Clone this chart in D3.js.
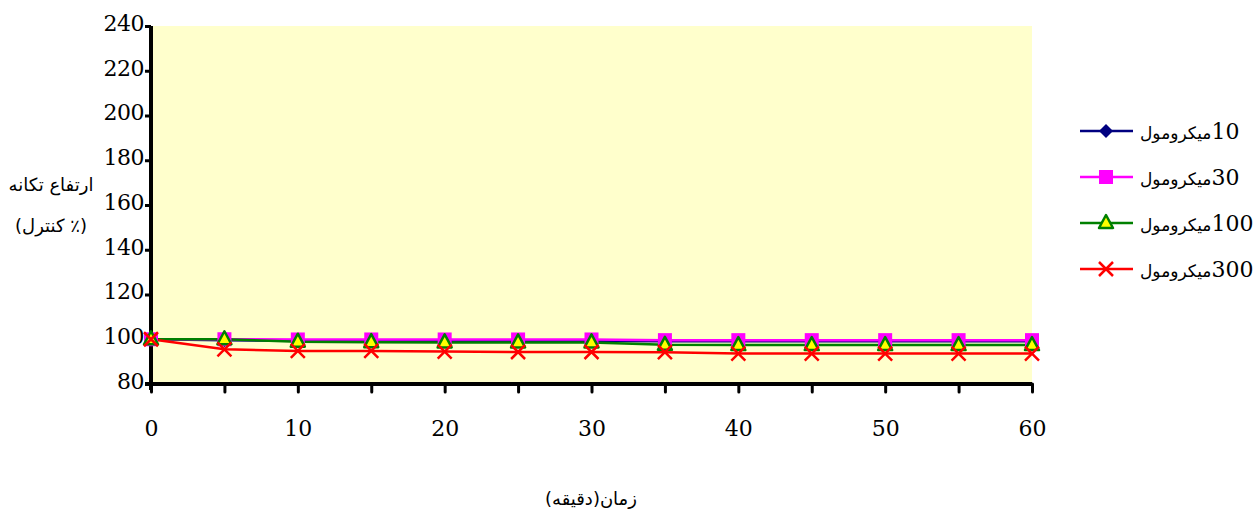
<!DOCTYPE html>
<html>
<head>
<meta charset="utf-8">
<script src="https://cdn.jsdelivr.net/npm/d3@7"></script>
<style>
  body { margin: 0; background: #fff; }
  svg { display: block; }
  .tick text { font-family: "DejaVu Serif", "Liberation Serif", serif; }
</style>
</head>
<body>
<svg id="chart" width="1256" height="512"></svg>
<script>
(() => {
  const minutes = [0, 5, 10, 15, 20, 25, 30, 35, 40, 45, 50, 55, 60];
  const s10 = [100, 99.6, 99.3, 99.3, 99.2, 99.2, 99.2, 99.1, 99.1, 99.1, 99.1, 99.1, 99.1];
  const s30 = [100, 100, 99.9, 99.9, 99.9, 99.9, 99.9, 99.6, 99.6, 99.6, 99.6, 99.6, 99.6];
  const s100 = [100, 100, 98.9, 98.7, 98.6, 98.6, 98.6, 97.5, 97.4, 97.4, 97.4, 97.4, 97.4];
  const s300 = [100, 95.5, 94.8, 94.8, 94.5, 94.3, 94.3, 94.2, 93.6, 93.6, 93.6, 93.6, 93.6];
  const seriesNames = ["10میکرومول", "30میکرومول", "100میکرومول", "300میکرومول"];
  const yTicks = [80, 100, 120, 140, 160, 180, 200, 220, 240];
  const xLabels = [0, 10, 20, 30, 40, 50, 60];

  const series = [
    { name: seriesNames[0], values: s10, color: "#000080", marker: "diamond" },
    { name: seriesNames[1], values: s30, color: "#ff00ff", marker: "square" },
    { name: seriesNames[2], values: s100, color: "#008000", marker: "triangle" },
    { name: seriesNames[3], values: s300, color: "#ff0000", marker: "cross" },
  ];

  const svg = d3.select("#chart");
  const x = d3.scaleLinear().domain([0, 60]).range([151, 1032]);
  const y = d3.scaleLinear().domain([80, 240]).range([384, 26]);

  svg.append("rect")
    .attr("x", x(0)).attr("y", y(240))
    .attr("width", x(60) - x(0)).attr("height", y(80) - y(240))
    .attr("fill", "#ffffcc");

  // y axis
  const yAxis = svg.append("g")
    .attr("transform", `translate(${x(0)},0)`)
    .call(d3.axisLeft(y).tickValues(yTicks).tickSize(6).tickPadding(1));
  yAxis.select(".domain").attr("stroke", "#000").attr("stroke-width", 4)
    .attr("d", `M0,${y(240)}V${y(80) + 6}`);
  yAxis.selectAll(".tick line").attr("stroke-width", 3);
  yAxis.selectAll(".tick text").attr("font-size", 22).attr("fill", "#000").attr("dy", "0.2em")
    .attr("letter-spacing", -0.5);

  // x axis
  const xAxis = svg.append("g")
    .attr("transform", `translate(0,${y(80)})`)
    .call(d3.axisBottom(x).tickValues(minutes).tickSize(8).tickFormat(d => xLabels.includes(d) ? d : ""));
  xAxis.select(".domain").attr("stroke", "#000").attr("stroke-width", 4)
    .attr("d", `M${x(0) - 6},0H${x(60)}`);
  xAxis.selectAll(".tick line").attr("stroke-width", 3).attr("stroke-linecap", "round");
  xAxis.selectAll(".tick text").attr("font-size", 22).attr("fill", "#000").attr("y", 36);

  const line = d3.line().x((d, i) => x(minutes[i])).y(d => y(d));

  function drawMarker(g, type, color, cx, cy) {
    if (type === "diamond") {
      g.append("path").attr("d", `M${cx},${cy - 7}L${cx + 7},${cy}L${cx},${cy + 7}L${cx - 7},${cy}Z`).attr("fill", color);
    } else if (type === "square") {
      g.append("rect").attr("x", cx - 7).attr("y", cy - 7).attr("width", 14).attr("height", 14).attr("fill", color);
    } else if (type === "triangle") {
      g.append("path").attr("d", `M${cx},${cy - 8}L${cx + 7},${cy + 5}L${cx - 7},${cy + 5}Z`)
        .attr("fill", "#ffff00").attr("stroke", color).attr("stroke-width", 2.5).attr("stroke-linejoin", "round");
    } else {
      g.append("path").attr("d", `M${cx - 7},${cy - 7}L${cx + 7},${cy + 7}M${cx + 7},${cy - 7}L${cx - 7},${cy + 7}`)
        .attr("stroke", color).attr("stroke-width", 2.5);
    }
  }

  series.forEach(s => {
    svg.append("path").datum(s.values)
      .attr("fill", "none").attr("stroke", s.color).attr("stroke-width", 2.5).attr("d", line);
  });
  series.forEach(s => {
    const g = svg.append("g");
    s.values.forEach((v, i) => drawMarker(g, s.marker, s.color, x(minutes[i]), y(v)));
  });

  // legend
  series.forEach((s, i) => {
    const ly = 131 + i * 46;
    const g = svg.append("g");
    g.append("line").attr("x1", 1080).attr("x2", 1133).attr("y1", ly).attr("y2", ly)
      .attr("stroke", s.color).attr("stroke-width", 2.5);
    drawMarker(g, s.marker, s.color, 1106, ly);
    const num = s.name.match(/^\d+/)[0];
    const t = g.append("text").attr("x", 1140).attr("y", ly + 8)
      .attr("direction", "rtl").attr("text-anchor", "end").attr("fill", "#000");
    t.append("tspan").attr("font-family", "'DejaVu Serif', serif").attr("font-size", 22)
      .attr("letter-spacing", -1).text(num);
    t.append("tspan").attr("font-family", "'DejaVu Sans', sans-serif").attr("font-size", 17)
      .text(s.name.slice(num.length));
  });

  // axis titles
  const titleFont = "'DejaVu Sans', sans-serif";
  svg.append("text").attr("x", 51).attr("y", 191).attr("text-anchor", "middle")
    .attr("font-family", titleFont).attr("font-size", 18).attr("direction", "rtl")
    .text("ارتفاع تکانه");
  svg.append("text").attr("x", 51).attr("y", 232).attr("text-anchor", "middle")
    .attr("font-family", titleFont).attr("font-size", 18).attr("direction", "rtl")
    .text("(٪ کنترل)");
  svg.append("text").attr("x", 591).attr("y", 505).attr("text-anchor", "middle")
    .attr("font-family", titleFont).attr("font-size", 18).attr("direction", "rtl")
    .text("زمان(دقیقه)");
})();
</script>
</body>
</html>
